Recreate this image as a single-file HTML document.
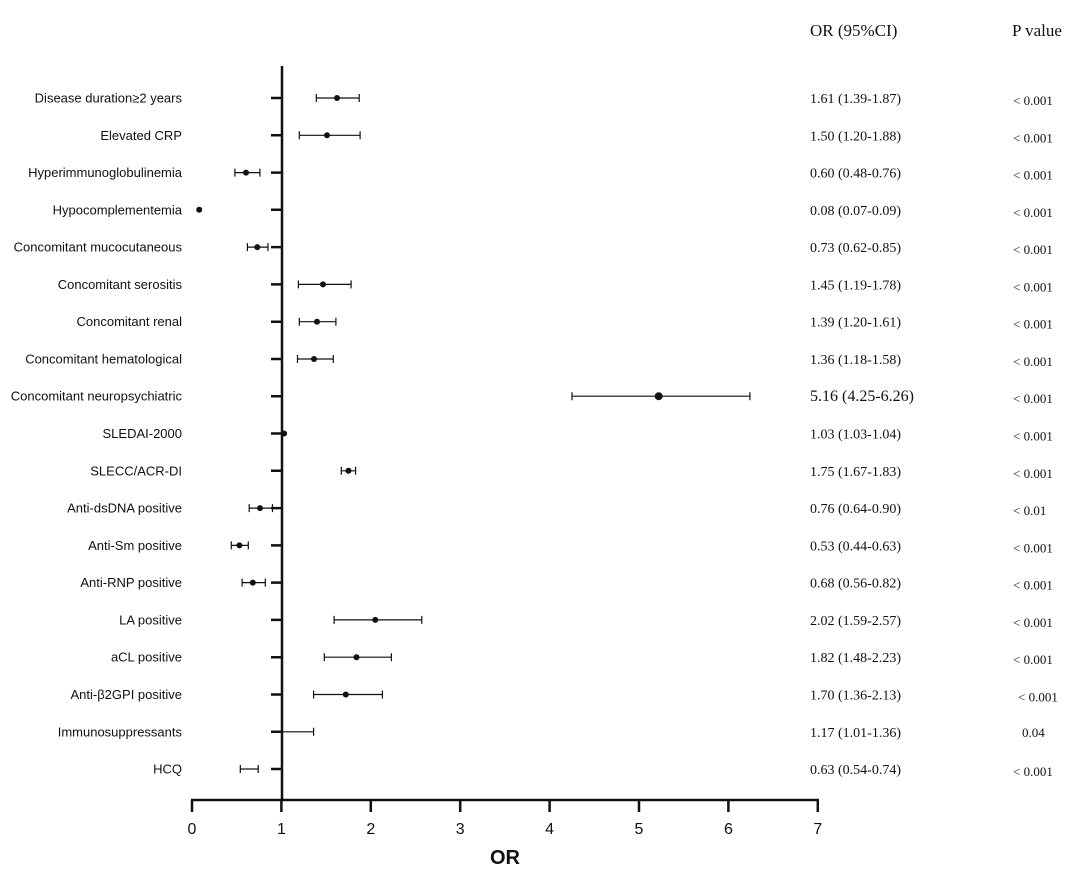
<!DOCTYPE html>
<html><head><meta charset="utf-8"><style>body{margin:0;background:#fff}svg{display:block}</style></head>
<body>
<svg width="1080" height="873" xmlns="http://www.w3.org/2000/svg">
<g font-family="Liberation Serif, serif" font-size="17" fill="#111">
<text x="810" y="36">OR (95%CI)</text>
<text x="1012" y="36">P value</text>
</g>
<g stroke="#111" stroke-width="2.5">
<path d="M271 98H282M271 135.3H282M271 172.6H282M271 209.8H282M271 247.1H282M271 284.4H282M271 321.7H282M271 359H282M271 396.2H282M271 433.5H282M271 470.8H282M271 508.1H282M271 545.4H282M271 582.6H282M271 619.9H282M271 657.2H282M271 694.5H282M271 731.8H282M271 769H282"/>
<line x1="282" y1="66" x2="282" y2="800"/>
<line x1="191" y1="800" x2="819" y2="800"/>
<path d="M192 800V812M281.4 800V812M370.8 800V812M460.2 800V812M549.6 800V812M639 800V812M728.4 800V812M817.8 800V812"/>
</g>
<g stroke="#111" stroke-width="1.2" fill="none">
<path d="M316.3 98H359.2M316.3 94V102M359.2 94V102"/>
<path d="M299.3 135.3H360.1M299.3 131.3V139.3M360.1 131.3V139.3"/>
<path d="M234.9 172.6H259.9M234.9 168.6V176.6M259.9 168.6V176.6"/>
<path d="M198.3 209.8H200"/>
<path d="M247.4 247.1H268M247.4 243.1V251.1M268 243.1V251.1"/>
<path d="M298.4 284.4H351.1M298.4 280.4V288.4M351.1 280.4V288.4"/>
<path d="M299.3 321.7H335.9M299.3 317.7V325.7M335.9 317.7V325.7"/>
<path d="M297.5 359H333.3M297.5 355V363M333.3 355V363"/>
<path d="M572 396.2H749.9M572 392.2V400.2M749.9 392.2V400.2"/>
<path d="M284.1 433.5H285"/>
<path d="M341.3 470.8H355.6M341.3 466.8V474.8M355.6 466.8V474.8"/>
<path d="M249.2 508.1H272.5M249.2 504.1V512.1M272.5 504.1V512.1"/>
<path d="M231.3 545.4H248.3M231.3 541.4V549.4M248.3 541.4V549.4"/>
<path d="M242.1 582.6H265.3M242.1 578.6V586.6M265.3 578.6V586.6"/>
<path d="M334.1 619.9H421.8M334.1 615.9V623.9M421.8 615.9V623.9"/>
<path d="M324.3 657.2H391.4M324.3 653.2V661.2M391.4 653.2V661.2"/>
<path d="M313.6 694.5H382.4M313.6 690.5V698.5M382.4 690.5V698.5"/>
<path d="M282.3 731.8H313.6M313.6 727.8V735.8"/>
<path d="M240.3 769H258.2M240.3 765V773M258.2 765V773"/>
</g>
<g fill="#111">
<circle cx="337" cy="98" r="3"/><circle cx="327" cy="135.3" r="3"/><circle cx="246" cy="172.6" r="3"/>
<circle cx="199.2" cy="209.8" r="3"/><circle cx="257.3" cy="247.1" r="3"/><circle cx="323" cy="284.4" r="3"/>
<circle cx="317" cy="321.7" r="3"/><circle cx="314" cy="359" r="3"/><circle cx="658.7" cy="396.2" r="4"/>
<circle cx="284.1" cy="433.5" r="3"/><circle cx="348.5" cy="470.8" r="3"/><circle cx="260" cy="508.1" r="3"/>
<circle cx="239.4" cy="545.4" r="3"/><circle cx="252.8" cy="582.6" r="3"/><circle cx="375.3" cy="619.9" r="3"/>
<circle cx="356.5" cy="657.2" r="3"/><circle cx="345.8" cy="694.5" r="3"/>
</g>
<g font-family="Liberation Sans, sans-serif" font-size="13" fill="#111" text-anchor="end">
<text x="182" y="102.5">Disease duration≥2 years</text>
<text x="182" y="139.8">Elevated CRP</text>
<text x="182" y="177.1">Hyperimmunoglobulinemia</text>
<text x="182" y="214.3">Hypocomplementemia</text>
<text x="182" y="251.6">Concomitant mucocutaneous</text>
<text x="182" y="288.9">Concomitant serositis</text>
<text x="182" y="326.2">Concomitant renal</text>
<text x="182" y="363.5">Concomitant hematological</text>
<text x="182" y="400.7">Concomitant neuropsychiatric</text>
<text x="182" y="438">SLEDAI-2000</text>
<text x="182" y="475.3">SLECC/ACR-DI</text>
<text x="182" y="512.6">Anti-dsDNA positive</text>
<text x="182" y="549.9">Anti-Sm positive</text>
<text x="182" y="587.1">Anti-RNP positive</text>
<text x="182" y="624.4">LA positive</text>
<text x="182" y="661.7">aCL positive</text>
<text x="182" y="699">Anti-β2GPI positive</text>
<text x="182" y="736.3">Immunosuppressants</text>
<text x="182" y="773.5">HCQ</text>
</g>
<g font-family="Liberation Serif, serif" font-size="14" fill="#111">
<text x="810" y="103">1.61 (1.39-1.87)</text>
<text x="810" y="140.3">1.50 (1.20-1.88)</text>
<text x="810" y="177.6">0.60 (0.48-0.76)</text>
<text x="810" y="214.8">0.08 (0.07-0.09)</text>
<text x="810" y="252.1">0.73 (0.62-0.85)</text>
<text x="810" y="289.4">1.45 (1.19-1.78)</text>
<text x="810" y="326.7">1.39 (1.20-1.61)</text>
<text x="810" y="364">1.36 (1.18-1.58)</text>
<text x="810" y="401.2" font-size="16">5.16 (4.25-6.26)</text>
<text x="810" y="438.5">1.03 (1.03-1.04)</text>
<text x="810" y="475.8">1.75 (1.67-1.83)</text>
<text x="810" y="513.1">0.76 (0.64-0.90)</text>
<text x="810" y="550.4">0.53 (0.44-0.63)</text>
<text x="810" y="587.6">0.68 (0.56-0.82)</text>
<text x="810" y="624.9">2.02 (1.59-2.57)</text>
<text x="810" y="662.2">1.82 (1.48-2.23)</text>
<text x="810" y="699.5">1.70 (1.36-2.13)</text>
<text x="810" y="736.8">1.17 (1.01-1.36)</text>
<text x="810" y="774">0.63 (0.54-0.74)</text>
</g>
<g font-family="Liberation Serif, serif" font-size="13" fill="#111">
<text x="1013" y="105">&lt; 0.001</text>
<text x="1013" y="142.3">&lt; 0.001</text>
<text x="1013" y="179.6">&lt; 0.001</text>
<text x="1013" y="216.8">&lt; 0.001</text>
<text x="1013" y="254.1">&lt; 0.001</text>
<text x="1013" y="291.4">&lt; 0.001</text>
<text x="1013" y="328.7">&lt; 0.001</text>
<text x="1013" y="366">&lt; 0.001</text>
<text x="1013" y="403.2">&lt; 0.001</text>
<text x="1013" y="440.5">&lt; 0.001</text>
<text x="1013" y="477.8">&lt; 0.001</text>
<text x="1013" y="515.1">&lt; 0.01</text>
<text x="1013" y="552.4">&lt; 0.001</text>
<text x="1013" y="589.6">&lt; 0.001</text>
<text x="1013" y="626.9">&lt; 0.001</text>
<text x="1013" y="664.2">&lt; 0.001</text>
<text x="1018" y="701.5">&lt; 0.001</text>
<text x="1022" y="736.8">0.04</text>
<text x="1013" y="776">&lt; 0.001</text>
</g>
<g font-family="Liberation Sans, sans-serif" font-size="16" fill="#111" text-anchor="middle">
<text x="192" y="834">0</text><text x="281.4" y="834">1</text><text x="370.8" y="834">2</text><text x="460.2" y="834">3</text><text x="549.6" y="834">4</text><text x="639" y="834">5</text><text x="728.4" y="834">6</text><text x="817.8" y="834">7</text>
</g>
<text x="505" y="864" font-family="Liberation Sans, sans-serif" font-size="20" font-weight="bold" text-anchor="middle" fill="#111">OR</text>
</svg>
</body></html>
